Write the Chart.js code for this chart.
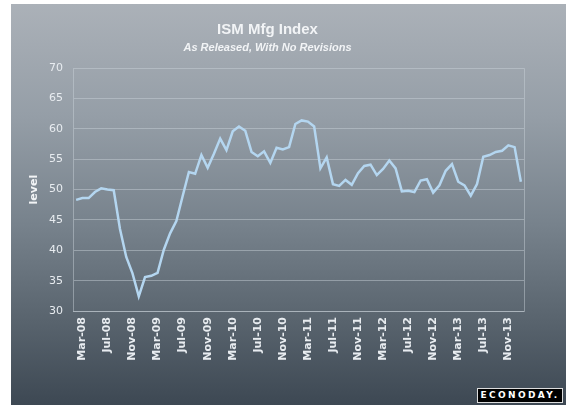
<!DOCTYPE html>
<html>
<head>
<meta charset="utf-8">
<script src="https://cdn.jsdelivr.net/npm/chart.js@4"></script>
<style>
  body { margin: 0; background: #fff; }
  .conten_chart {
    position: absolute; left: 11px; top: 4px; width: 555px; height: 401px;
    background: linear-gradient(to bottom, #abb1b8 0%, #959ea7 28%, #77828c 55%, #5a656f 78%, #3d4853 100%);
  }
  .logo {
    position: absolute; left: 477px; top: 388px; width: 84px; height: 13px;
    background: #000; border: 1px solid #ddd;
    color: #fff; font: bold 9px "DejaVu Sans", sans-serif; letter-spacing: 2.4px;
    line-height: 13px; text-align: center;
  }
</style>
</head>
<body>
<div class="conten_chart"><canvas id="line-chart" width="555" height="401"></canvas></div>
<div class="logo">ECONODAY.</div>
<script>
// monthly, Feb-08 .. Jan-14
let months = ['Jan','Feb','Mar','Apr','May','Jun','Jul','Aug','Sep','Oct','Nov','Dec']
let labels = []
for (let i = 0; i < 72; i++) {
  let m = (1 + i) % 12
  let y = 8 + Math.floor((1 + i) / 12)
  labels.push(months[m] + '-' + String(y).padStart(2, '0'))
}

let values = [
  48.3, 48.6, 48.6, 49.6, 50.2, 50.0, 49.9, 43.5, 38.9, 36.2, 32.4,
  35.6, 35.8, 36.3, 40.1, 42.8, 44.8, 48.9, 52.9, 52.6, 55.7, 53.6, 55.9,
  58.4, 56.5, 59.6, 60.4, 59.7, 56.2, 55.5, 56.3, 54.4, 56.9, 56.6, 57.0,
  60.8, 61.4, 61.2, 60.4, 53.5, 55.3, 50.9, 50.6, 51.6, 50.8, 52.7, 53.9,
  54.1, 52.4, 53.4, 54.8, 53.5, 49.7, 49.8, 49.6, 51.5, 51.7, 49.5, 50.7,
  53.1, 54.2, 51.3, 50.7, 49.0, 50.9, 55.4, 55.7, 56.2, 56.4, 57.3, 57.0,
  51.3
]

let yTicks = [30, 35, 40, 45, 50, 55, 60, 65, 70]

let txt = '#e8ecf0'
let grid = 'rgba(205,212,220,0.45)'

new Chart(document.getElementById('line-chart'), {
  type: 'line',
  data: {
    labels: labels,
    datasets: [{
      data: values,
      borderColor: '#b4d6f0',
      borderWidth: 2.5,
      pointRadius: 0,
      tension: 0
    }]
  },
  options: {
    responsive: false,
    animation: false,
    layout: { padding: { left: 0, right: 42, top: 0, bottom: 0 } },
    plugins: {
      legend: { display: false },
      tooltip: { enabled: false },
      title: {
        display: true,
        text: 'ISM Mfg Index',
        color: '#f2f4f6',
        font: { family: 'Liberation Sans', size: 15, weight: 'bold' },
        padding: { top: 17, bottom: 2 }
      },
      subtitle: {
        display: true,
        text: 'As Released, With No Revisions',
        color: '#f2f4f6',
        font: { family: 'Liberation Sans', size: 11, weight: 'bold', style: 'italic' },
        padding: { top: 0, bottom: 14 }
      }
    },
    scales: {
      x: {
        offset: true,
        grid: { display: false, drawTicks: false },
        border: { display: true, color: grid },
        afterFit: s => { s.height = 94 },
        ticks: {
          autoSkip: false,
          minRotation: 90,
          maxRotation: 90,
          padding: 6,
          color: txt,
          font: { family: 'DejaVu Sans', size: 11, weight: 'bold' },
          callback: (v, i) => (i - 1) % 4 === 0 ? labels[i] : null
        }
      },
      y: {
        min: 30,
        max: 70,
        afterFit: s => { s.width = 62 },
        afterBuildTicks: s => { s.ticks = yTicks.map(v => ({ value: v })) },
        grid: { color: grid, drawTicks: false },
        border: { display: true, color: grid },
        ticks: {
          padding: 10,
          color: txt,
          font: { family: 'DejaVu Sans', size: 11 }
        },
        title: {
          display: true,
          text: 'level',
          color: '#f2f4f6',
          font: { family: 'DejaVu Sans', size: 11, weight: 'bold' },
          padding: { top: 17, bottom: 0 }
        }
      }
    }
  },
  plugins: [{
    id: 'rightEdge',
    afterDraw(chart) {
      let a = chart.chartArea, c = chart.ctx
      c.save()
      c.strokeStyle = grid
      c.lineWidth = 1
      c.beginPath()
      c.moveTo(a.right + 0.5, a.top)
      c.lineTo(a.right + 0.5, a.bottom)
      c.stroke()
      c.restore()
    }
  }]
})
</script>
</body>
</html>
